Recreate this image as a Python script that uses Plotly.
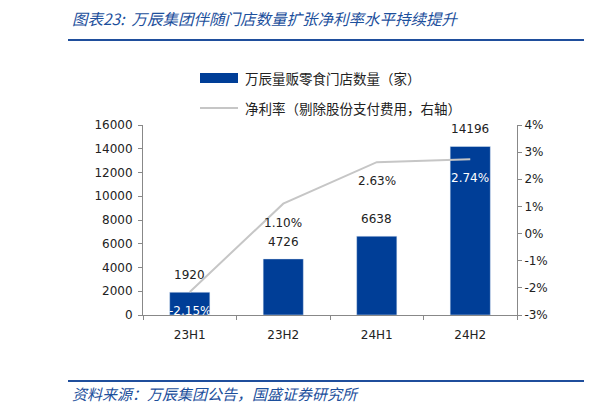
import plotly.graph_objects as go

categories = ["23H1", "23H2", "24H1", "24H2"]
store_counts = [1920, 4726, 6638, 14196]
net_margin = [-0.0215, 0.0110, 0.0263, 0.0274]
margin_labels = ["-2.15%", "1.10%", "2.63%", "2.74%"]
margin_label_colors = ["white", "#222222", "#222222", "white"]
left_ticks = [0, 2000, 4000, 6000, 8000, 10000, 12000, 14000, 16000]
right_ticks = [-0.03, -0.02, -0.01, 0.0, 0.01, 0.02, 0.03, 0.04]
right_tick_labels = ["-3%", "-2%", "-1%", "0%", "1%", "2%", "3%", "4%"]

title_text = "图表23:  万辰集团伴随门店数量扩张净利率水平持续提升"
source_text = "资料来源：万辰集团公告，国盛证券研究所"
legend_bar = "万辰量贩零食门店数量（家）"
legend_line = "净利率（剔除股份支付费用，右轴）"

OFF = 8  # page body margin
W, H = 611 - OFF, 413 - OFF
L, R, T, B = 143 - OFF, 517 - OFF, 125 - OFF, 315 - OFF
BLUE = "#003e97"
GRAY = "#c6c6c6"
TICKFONT = dict(family="DejaVu Sans, Verdana, sans-serif", size=12, color="#222222")
CJK = "Noto Sans CJK SC"


def px(x):
    return (x - OFF - L) / (R - L)


def py(y):
    return (B - (y - OFF)) / (B - T)


fig = go.Figure()
fig.add_trace(go.Bar(
    x=categories, y=store_counts, marker_color=BLUE, width=0.43,
    yaxis="y", showlegend=False, hoverinfo="skip",
))
fig.add_trace(go.Scatter(
    x=categories, y=net_margin, mode="lines", line=dict(color=GRAY, width=2),
    yaxis="y2", showlegend=False, hoverinfo="skip",
))

annotations = []
for c, v in zip(categories, store_counts):
    annotations.append(dict(x=c, y=v, xref="x", yref="y", text=str(v), showarrow=False,
                            yshift=17, font=TICKFONT))
for c, v, t, col in zip(categories, net_margin, margin_labels, margin_label_colors):
    annotations.append(dict(x=c, y=v, xref="x", yref="y2", text=t, showarrow=False,
                            yshift=-19, font=dict(family=TICKFONT["family"], size=12, color=col)))

annotations.append(dict(x=px(70), y=py(18), xref="paper", yref="paper", text=title_text,
                        showarrow=False, xanchor="left", yanchor="middle",
                        font=dict(family=CJK, size=15.5, color="#1c4f9c", style="italic")))
annotations.append(dict(x=px(70), y=py(393), xref="paper", yref="paper", text=source_text,
                        showarrow=False, xanchor="left", yanchor="middle",
                        font=dict(family=CJK, size=15, color="#1c4f9c", style="italic")))
annotations.append(dict(x=px(243), y=py(78), xref="paper", yref="paper", text=legend_bar,
                        showarrow=False, xanchor="left", yanchor="middle",
                        font=dict(family=CJK, size=13.5, color="#222222")))
annotations.append(dict(x=px(243), y=py(108), xref="paper", yref="paper", text=legend_line,
                        showarrow=False, xanchor="left", yanchor="middle",
                        font=dict(family=CJK, size=13.5, color="#222222")))

shapes = [
    dict(type="rect", xref="paper", yref="paper", x0=px(200), x1=px(238), y0=py(83), y1=py(73),
         fillcolor=BLUE, line=dict(width=0)),
    dict(type="line", xref="paper", yref="paper", x0=px(200), x1=px(238), y0=py(108), y1=py(108),
         line=dict(color=GRAY, width=2)),
]
for yy in (40, 381):
    shapes.append(dict(type="line", xref="paper", yref="paper", x0=px(68), x1=px(584),
                       y0=py(yy), y1=py(yy), line=dict(color="#1f4e9c", width=2)))
    shapes.append(dict(type="line", xref="paper", yref="paper", x0=px(606), x1=px(612),
                       y0=py(yy), y1=py(yy), line=dict(color="#1f4e9c", width=2)))

axis_common = dict(showline=True, linecolor="#888888", linewidth=1, ticks="outside", ticklen=4,
                   tickcolor="#888888", tickfont=TICKFONT, showgrid=False, zeroline=False)

fig.update_layout(
    width=W, height=H,
    margin=dict(l=L, r=W - R, t=T, b=H - B, pad=0),
    paper_bgcolor="white", plot_bgcolor="white",
    xaxis=dict(tickson="boundaries", ticklabelstandoff=9, **axis_common),
    yaxis=dict(range=[0, 16000], tickvals=left_ticks, ticktext=[str(v) for v in left_ticks],
               ticklabelstandoff=3, **axis_common),
    yaxis2=dict(range=[-0.03, 0.04], tickvals=right_ticks, ticktext=right_tick_labels,
                overlaying="y", side="right", **axis_common),
    annotations=annotations,
    shapes=shapes,
    showlegend=False,
)

fig.write_html("out.html")
